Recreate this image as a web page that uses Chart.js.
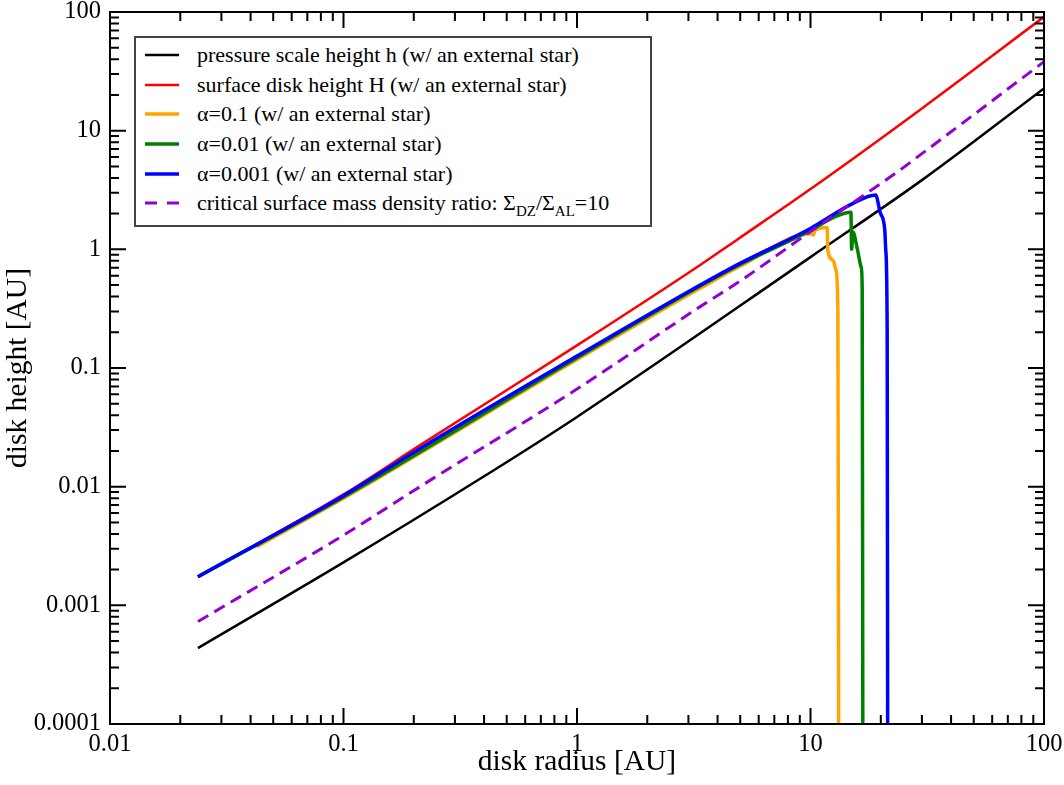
<!DOCTYPE html>
<html>
<head>
<meta charset="utf-8">
<script src="https://cdn.jsdelivr.net/npm/chart.js@4.4.0/dist/chart.umd.min.js"></script>
<style>
html, body { margin: 0; padding: 0; background: #fff; }
#wrap { position: relative; width: 1064px; height: 785px; }
#legend {
  position: absolute; left: 134px; top: 36px; width: 518px; height: 191px;
  box-sizing: border-box; border: 2px solid #444; background: #fff;
  padding-top: 2px; font-family: "Liberation Serif", "Times New Roman", serif; font-size: 22px; color: #000;
}
.row { display: flex; align-items: center; height: 29.7px; white-space: nowrap; }
.row svg { margin-left: 9px; margin-right: 18px; flex: none; }
sub { font-size: 15px; vertical-align: -6px; line-height: 0; }
</style>
</head>
<body>
<div id="wrap">
  <canvas id="chart" width="1064" height="785"></canvas>
  <div id="legend"></div>
</div>
<script>
// axis ticks
const xTickValues = [0.01, 0.1, 1, 10, 100]
const xTickLabels = ['0.01', '0.1', '1', '10', '100']
const yTickValues = [0.0001, 0.001, 0.01, 0.1, 1, 10, 100]
const yTickLabels = ['0.0001', '0.001', '0.01', '0.1', '1', '10', '100']
const minorSteps = [2, 3, 4, 5, 6, 7, 8, 9]

// pressure scale height h
const radiusH = [0.0238, 0.1, 0.377, 1, 10, 30, 100]
const heightH = [0.000436, 0.0023, 0.01137, 0.0387, 0.86, 3.83, 22.7]

// surface disk height H
const radiusSurf = [0.0238, 0.1, 0.2128, 1, 3.37, 4.83, 10, 30, 100]
const heightSurf = [0.00174, 0.0086, 0.0224, 0.155, 0.738, 1.2, 3.22, 15.4, 91]

// alpha = 0.1
const radiusA1 = [0.0425, 0.1, 1, 3.37, 4.99, 10, 10.3, 10.45, 11.8, 11.85, 12.5, 12.85, 13.1, 13.2]
const heightA1 = [0.00312, 0.008, 0.118, 0.47, 0.72, 1.35, 1.32, 1.45, 1.53, 0.99, 0.81, 0.67, 0.31, 0.0001]

// alpha = 0.01
const radiusA2 = [0.0238, 0.1, 1, 3.37, 4.99, 10, 12.5, 14.9, 15.0, 15.2, 15.8, 16.5, 16.65, 16.75]
const heightA2 = [0.00174, 0.0082, 0.122, 0.49, 0.745, 1.44, 1.85, 2.05, 1.0, 1.4, 1.05, 0.7, 0.46, 0.0001]

// alpha = 0.001
const radiusA3 = [0.0238, 0.1, 0.2128, 1, 3.37, 4.99, 10, 15.2, 19.0, 19.9, 20.8, 21.0, 21.3, 21.4]
const heightA3 = [0.00174, 0.0084, 0.021, 0.126, 0.5, 0.762, 1.5, 2.44, 2.87, 2.03, 1.46, 0.99, 0.209, 0.0001]

// critical surface mass density ratio
const radiusCrit = [0.0238, 0.1, 0.243, 1, 3.37, 4.99, 10, 24.2, 30, 100]
const heightCrit = [0.00073, 0.0039, 0.0118, 0.0665, 0.329, 0.54, 1.41, 4.67, 6.4, 38.1]

const serif = '"Liberation Serif", "Times New Roman", serif'
const pts = (xs, ys) => xs.map((v, i) => ({ x: v, y: ys[i] }))

// legend order (top to bottom)
const series = [
  { label: 'pressure scale height h (w/ an external star)', html: 'pressure scale height h (w/ an external star)',
    data: pts(radiusH, heightH), color: '#000000', width: 2.5, dash: [] },
  { label: 'surface disk height H (w/ an external star)', html: 'surface disk height H (w/ an external star)',
    data: pts(radiusSurf, heightSurf), color: '#ff0000', width: 2.5, dash: [] },
  { label: 'α=0.1 (w/ an external star)', html: 'α=0.1 (w/ an external star)',
    data: pts(radiusA1, heightA1), color: '#ffa500', width: 3.5, dash: [] },
  { label: 'α=0.01 (w/ an external star)', html: 'α=0.01 (w/ an external star)',
    data: pts(radiusA2, heightA2), color: '#008000', width: 3.5, dash: [] },
  { label: 'α=0.001 (w/ an external star)', html: 'α=0.001 (w/ an external star)',
    data: pts(radiusA3, heightA3), color: '#0000ff', width: 3.5, dash: [] },
  { label: 'critical surface mass density ratio: ΣDZ/ΣAL=10',
    html: 'critical surface mass density ratio: Σ<sub>DZ</sub>/Σ<sub>AL</sub>=10',
    data: pts(radiusCrit, heightCrit), color: '#9400d3', width: 3, dash: [12, 7] },
]

// html legend
const legendEl = document.getElementById('legend')
series.forEach(s => {
  const row = document.createElement('div')
  row.className = 'row'
  row.innerHTML = '<svg width="34" height="6"><line x1="0" y1="3" x2="34" y2="3" stroke="' + s.color +
    '" stroke-width="' + s.width + '"' + (s.dash.length ? ' stroke-dasharray="12,10"' : '') + '/></svg><span>' + s.html + '</span>'
  legendEl.appendChild(row)
})

// inward ticks on all four sides plus frame
const framePlugin = {
  id: 'frame',
  afterDatasetsDraw(chart) {
    const { ctx, chartArea: a, scales: { x, y } } = chart
    ctx.save()
    ctx.strokeStyle = '#000'
    ctx.lineWidth = 2
    ctx.beginPath()
    const tx = (v, len) => {
      const p = x.getPixelForValue(v)
      ctx.moveTo(p, a.bottom); ctx.lineTo(p, a.bottom - len)
      ctx.moveTo(p, a.top); ctx.lineTo(p, a.top + len)
    }
    const ty = (v, len) => {
      const p = y.getPixelForValue(v)
      ctx.moveTo(a.left, p); ctx.lineTo(a.left + len, p)
      ctx.moveTo(a.right, p); ctx.lineTo(a.right - len, p)
    }
    xTickValues.forEach((v, i) => {
      tx(v, 16)
      if (i < xTickValues.length - 1) minorSteps.forEach(m => tx(v * m, 9))
    })
    yTickValues.forEach((v, i) => {
      ty(v, 16)
      if (i < yTickValues.length - 1) minorSteps.forEach(m => ty(v * m, 9))
    })
    ctx.stroke()
    ctx.strokeRect(a.left, a.top, a.right - a.left, a.bottom - a.top)
    ctx.restore()
  }
}

// chart.js draws index 0 last (on top), so reverse
const datasets = series.slice().reverse().map(s => ({
  label: s.label,
  data: s.data,
  borderColor: s.color,
  backgroundColor: s.color,
  borderWidth: s.width,
  borderDash: s.dash,
  showLine: true,
  pointRadius: 0,
  cubicInterpolationMode: 'monotone',
  fill: false,
}))

new Chart(document.getElementById('chart'), {
  type: 'scatter',
  data: { datasets },
  options: {
    responsive: false,
    animation: false,
    layout: { padding: { top: 12, right: 20, left: 0, bottom: 0 } },
    plugins: { legend: { display: false }, tooltip: { enabled: false } },
    scales: {
      x: {
        type: 'logarithmic', min: 0.01, max: 100,
        grid: { display: false, drawTicks: false },
        border: { display: false },
        afterBuildTicks: s => { s.ticks = xTickValues.map(v => ({ value: v })) },
        afterFit: s => { s.height = 61; s.paddingLeft = 0; s.paddingRight = 0 },
        ticks: {
          callback: (v, i) => xTickLabels[i],
          font: { family: serif, size: 24.5 }, color: '#000',
          padding: 6, maxRotation: 0, autoSkip: false,
        },
        title: {
          display: true, text: 'disk radius [AU]', color: '#000',
          font: { family: serif, size: 29.5 }, padding: { top: 0, bottom: 5 },
        },
      },
      y: {
        type: 'logarithmic', min: 0.0001, max: 100,
        grid: { display: false, drawTicks: false },
        border: { display: false },
        afterBuildTicks: s => { s.ticks = yTickValues.map(v => ({ value: v })) },
        afterFit: s => { s.width = 110; s.paddingTop = 0; s.paddingBottom = 0 },
        ticks: {
          callback: (v, i) => yTickLabels[i],
          font: { family: serif, size: 24.5 }, color: '#000',
          padding: 9, autoSkip: false,
        },
        title: {
          display: true, text: 'disk height [AU]', color: '#000',
          font: { family: serif, size: 29.5 }, padding: { top: 1, bottom: 0 },
        },
      },
    },
  },
  plugins: [framePlugin],
})
</script>
</body>
</html>
